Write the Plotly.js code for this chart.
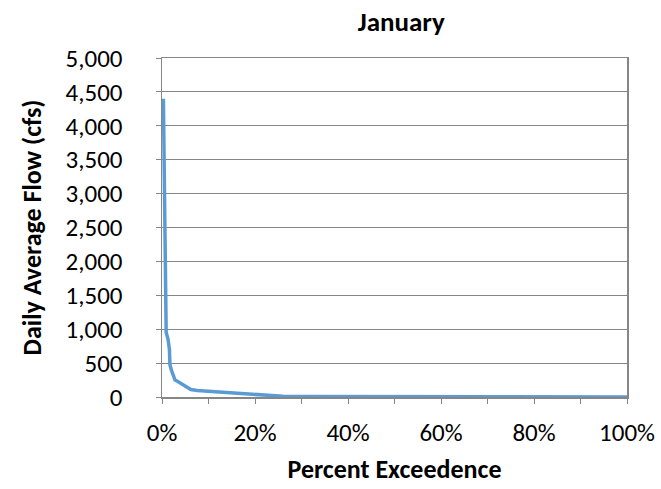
<!DOCTYPE html>
<html><head><meta charset="utf-8">
<script src="https://cdn.plot.ly/plotly-3.0.1.min.js"></script>
<style>body{margin:0;background:#fff}#c{width:661px;height:489px}</style>
</head><body><div id="c"></div>
<script>
const exceedence = [0.003,0.004,0.005,0.006,0.007,0.008,0.009,0.013,0.016,0.017,0.020,0.028,0.034,0.047,0.062,0.076,0.10,0.14,0.17,0.195,0.23,0.26,0.30,0.40,0.60,0.80,1.00];
const flow = [4400,3500,3000,2700,2300,1500,950,850,700,480,400,250,230,170,110,95,85,65,55,40,20,10,6,4,3,2,1];
const F = 'Calibri, Carlito, Lato, sans-serif';
Plotly.newPlot('c', [{
  x: exceedence, y: flow, type: 'scatter', mode: 'lines',
  line: {color: '#5B9BD5', width: 3.5}
}], {
  width: 661, height: 489,
  margin: {l: 162, r: 34, t: 58, b: 92},
  paper_bgcolor: '#fff', plot_bgcolor: '#fff',
  showlegend: false,
  title: {text: '<b>January</b>', font: {family: F, size: 27, color: '#000'}, x: 0.607, xanchor: 'center', y: 0.955, yanchor: 'middle'},
  xaxis: {range: [0, 1], tickformat: '.0%', dtick: 0.2, tick0: 0,
    showgrid: false, zeroline: false, showline: true, linecolor: '#868686', linewidth: 1.5, mirror: true,
    ticks: 'outside', ticklen: 5, tickcolor: '#868686',
    minor: {dtick: 0.1, ticks: 'outside', ticklen: 5, tickcolor: '#868686', showgrid: false},
    tickfont: {family: F, size: 25, color: '#000'}, ticklabelstandoff: 7,
    title: {text: '<b>Percent Exceedence</b>', font: {family: F, size: 26, color: '#000'}, standoff: 13}},
  yaxis: {range: [0, 5000], dtick: 500, tickformat: ',d',
    showgrid: true, gridcolor: '#868686', gridwidth: 1, zeroline: false,
    showline: true, linecolor: '#868686', linewidth: 1.5, mirror: true,
    ticks: 'outside', ticklen: 5, tickcolor: '#868686',
    tickfont: {family: F, size: 25, color: '#000'}, ticklabelstandoff: 28,
    title: {text: '<b>Daily Average Flow (cfs)</b>', font: {family: F, size: 26, color: '#000'}, standoff: 16}}
}, {displayModeBar: false, staticPlot: true});
</script></body></html>
